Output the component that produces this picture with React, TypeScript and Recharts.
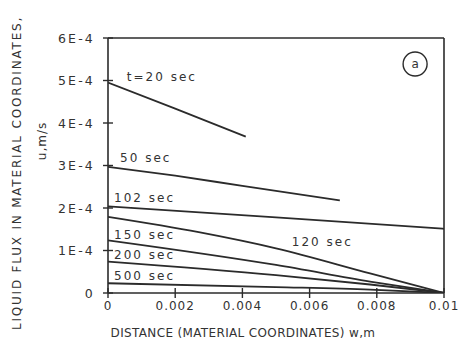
import React from 'react';
import { LineChart, Line, XAxis, YAxis, ReferenceLine, ReferenceDot, Label } from 'recharts';

// Axis ticks
const xTicks = [0, 0.002, 0.004, 0.006, 0.008, 0.01];
const xTickLabels = ['0', '0.002', '0.004', '0.006', '0.008', '0.01'];
const yTicks = [0, 1e-4, 2e-4, 3e-4, 4e-4, 5e-4, 6e-4];
const yTickLabels = ['0', '1E-4', '2E-4', '3E-4', '4E-4', '5E-4', '6E-4'];

// Liquid flux profiles u (m/s) versus material coordinate w (m)
const flux20 = [
  { w: 0, u: 4.95e-4 },
  { w: 0.002, u: 4.34e-4 },
  { w: 0.0041, u: 3.68e-4 },
];
const flux50 = [
  { w: 0, u: 2.97e-4 },
  { w: 0.002, u: 2.76e-4 },
  { w: 0.004, u: 2.52e-4 },
  { w: 0.0069, u: 2.18e-4 },
];
const flux102 = [
  { w: 0, u: 2.04e-4 },
  { w: 0.005, u: 1.78e-4 },
  { w: 0.01, u: 1.51e-4 },
];
const flux120 = [
  { w: 0, u: 1.79e-4 },
  { w: 0.0027, u: 1.43e-4 },
  { w: 0.005, u: 1.05e-4 },
  { w: 0.0078, u: 0.46e-4 },
  { w: 0.01, u: 0 },
];
const flux150 = [
  { w: 0, u: 1.24e-4 },
  { w: 0.005, u: 0.66e-4 },
  { w: 0.0078, u: 0.27e-4 },
  { w: 0.01, u: 0 },
];
const flux200 = [
  { w: 0, u: 0.74e-4 },
  { w: 0.005, u: 0.42e-4 },
  { w: 0.0078, u: 0.2e-4 },
  { w: 0.01, u: 0 },
];
const flux500 = [
  { w: 0, u: 0.23e-4 },
  { w: 0.005, u: 0.14e-4 },
  { w: 0.0078, u: 0.08e-4 },
  { w: 0.01, u: 0 },
];

const seriesNames = ['t=20 sec', '50 sec', '102 sec', '120 sec', '150 sec', '200 sec', '500 sec'];

const INK = '#2b2b2b';
const FONT = '"DejaVu Sans", sans-serif';

const XTick = (props: any) => {
  const { x, y, payload, index } = props;
  const axisY = y - 4;
  return (
    <g>
      <line x1={x} x2={x} y1={axisY - 5} y2={axisY + 5} stroke={INK} strokeWidth={1.4} />
      <text x={x} y={axisY + 17} textAnchor="middle" fontFamily={FONT} fontSize={12} fill="#333" letterSpacing={1}>
        {xTickLabels[index] ?? String(payload.value)}
      </text>
    </g>
  );
};

const YTick = (props: any) => {
  const { x, y, payload, index } = props;
  const axisX = x + 4;
  return (
    <g>
      <line x1={axisX - 5} x2={axisX + 5} y1={y} y2={y} stroke={INK} strokeWidth={1.4} />
      <text x={axisX - 13} y={y} textAnchor="end" dominantBaseline="central" fontFamily={FONT} fontSize={12.5} fill="#333" letterSpacing={2.2}>
        {yTickLabels[index] ?? String(payload.value)}
      </text>
    </g>
  );
};

const SeriesLabel = (text: string) => (props: any) => {
  const { viewBox } = props;
  const cx = viewBox.x + (viewBox.width ?? 0) / 2;
  const cy = viewBox.y + (viewBox.height ?? 0) / 2;
  return (
    <text x={cx} y={cy} textAnchor="start" dominantBaseline="central" fontFamily={FONT} fontSize={12} fill="#333" letterSpacing={2}>
      {text}
    </text>
  );
};

const lines = [flux20, flux50, flux102, flux120, flux150, flux200, flux500];

// label anchors (data units) for each curve annotation
const labelAnchors = [
  { w: 0.00056, u: 5.08e-4 },
  { w: 0.00036, u: 3.18e-4 },
  { w: 0.00018, u: 2.24e-4 },
  { w: 0.00547, u: 1.21e-4 },
  { w: 0.00018, u: 1.37e-4 },
  { w: 0.00018, u: 0.89e-4 },
  { w: 0.00018, u: 0.4e-4 },
];

export default function App() {
  return (
    <div style={{ position: 'absolute', left: 0, top: 0, width: 462, height: 362, background: '#fff' }}>
      <LineChart width={462} height={362} margin={{ top: 38, right: 18, bottom: 39, left: 48 }}>
        <XAxis
          type="number"
          dataKey="w"
          domain={[0, 0.01]}
          ticks={xTicks}
          interval={0}
          tickSize={0}
          tickMargin={4}
          tick={<XTick />}
          height={30}
          axisLine={{ stroke: INK, strokeWidth: 1.6 }}
          allowDataOverflow
        >
          <Label
            content={() => (
              <text x={243} y={333} textAnchor="middle" dominantBaseline="central" fontFamily={FONT} fontSize={12} fill="#333" letterSpacing={0.35}>
                DISTANCE (MATERIAL COORDINATES) w,m
              </text>
            )}
          />
        </XAxis>
        <YAxis
          type="number"
          dataKey="u"
          domain={[0, 6e-4]}
          ticks={yTicks}
          interval={0}
          tickSize={0}
          tickMargin={4}
          tick={<YTick />}
          width={60}
          axisLine={{ stroke: INK, strokeWidth: 1.6 }}
          allowDataOverflow
        >
          <Label
            content={() => (
              <g fontFamily={FONT} fontSize={12} fill="#333">
                <text x={17} y={173} textAnchor="middle" dominantBaseline="central" transform="rotate(-90 17 173)" letterSpacing={1.8}>
                  LIQUID FLUX IN MATERIAL COORDINATES,
                </text>
                <text x={42} y={141} textAnchor="middle" dominantBaseline="central" transform="rotate(-90 42 141)" letterSpacing={1}>
                  u,m/s
                </text>
              </g>
            )}
          />
        </YAxis>

        {/* frame: top and right borders */}
        <ReferenceLine y={6e-4} stroke={INK} strokeWidth={1.6} />
        <ReferenceLine x={0.01} stroke={INK} strokeWidth={1.6} />

        {lines.map((d, i) => (
          <Line
            key={seriesNames[i]}
            data={d}
            dataKey="u"
            type="monotone"
            stroke={INK}
            strokeWidth={1.8}
            dot={false}
            isAnimationActive={false}
          />
        ))}

        {labelAnchors.map((a, i) => (
          <ReferenceDot
            key={'lbl' + i}
            x={a.w}
            y={a.u}
            r={0}
            fill="none"
            stroke="none"
            label={SeriesLabel(seriesNames[i])}
          />
        ))}

        {/* panel marker */}
        <ReferenceDot
          x={0.00914}
          y={5.39e-4}
          r={12}
          fill="none"
          stroke={INK}
          strokeWidth={1.4}
          label={{ value: 'a', position: 'center', fontFamily: FONT, fontSize: 12, fill: '#333' }}
        />
      </LineChart>
    </div>
  );
}
